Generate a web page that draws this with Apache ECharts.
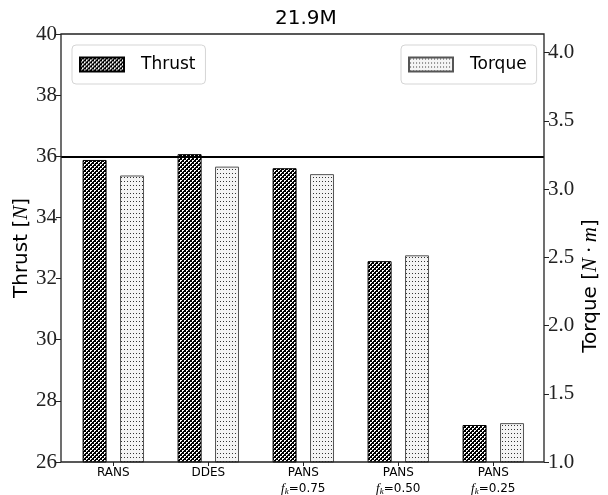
<!DOCTYPE html>
<html>
<head>
<meta charset="utf-8">
<script src="https://cdn.jsdelivr.net/npm/echarts@6/dist/echarts.min.js"></script>
<style>
  html, body { margin: 0; padding: 0; background: #fff; }
  #chart { width: 608px; height: 495px; }
</style>
</head>
<body>
<div id="chart"></div>
<script>
// ---- data ----
const categories = ['RANS', 'DDES', 'PANS_0.75', 'PANS_0.50', 'PANS_0.25'];
const mainLabels = ['RANS', 'DDES', 'PANS', 'PANS', 'PANS'];
const fkLabels = ['', '', '0.75', '0.50', '0.25'];
const thrust = [35.88, 36.07, 35.61, 32.57, 27.21];
const torque = [3.10, 3.165, 3.11, 2.515, 1.285];
const thrustRef = 36;
const thrustTicks = { min: 26, max: 40, step: 2 };
const torqueTicks = { min: 1.0, max: 4.137, step: 0.5 };
const titleText = '21.9M';

// ---- patterns ----
function makeTile(w, h, draw) {
  const c = document.createElement('canvas');
  c.width = w; c.height = h;
  const ctx = c.getContext('2d');
  draw(ctx);
  return c;
}
const thrustTile = makeTile(4, 4, ctx => {
  ctx.fillStyle = '#000'; ctx.fillRect(0, 0, 4, 4);
  ctx.fillStyle = '#fff';
  ctx.fillRect(0, 0, 2, 1);
  ctx.fillRect(0, 1, 1, 1);
  ctx.fillRect(2, 2, 2, 1);
  ctx.fillRect(2, 3, 1, 1);
});
const torqueTile = makeTile(3, 4, ctx => {
  ctx.fillStyle = '#f4f4f4'; ctx.fillRect(0, 0, 3, 4);
  ctx.fillStyle = '#333';
  ctx.fillRect(1, 1, 1, 1);
});
const thrustFill = { image: thrustTile, repeat: 'repeat' };
const torqueFill = { image: torqueTile, repeat: 'repeat' };

const SANS = 'DejaVu Sans';
const SERIF = 'Liberation Serif';

const chart = echarts.init(document.getElementById('chart'), null, { renderer: 'canvas' });

const fmtNum = (v, step, digits) => {
  const k = Math.round(v / step);
  if (Math.abs(k * step - v) > 1e-6) return '';
  return v.toFixed(digits);
};

const legendBase = {
  orient: 'horizontal',
  icon: 'rect',
  itemWidth: 44, itemHeight: 14,
  padding: [11, 10, 11, 7],
  borderColor: '#d5d5d5', borderWidth: 1, borderRadius: 4,
  backgroundColor: '#fff',
  textStyle: { fontFamily: SANS, fontSize: 17, color: '#000', padding: [0, 0, 0, 12] }
};

const option = {
  animation: false,
  backgroundColor: '#fff',
  title: {
    text: titleText,
    left: 270, top: 4,
    textStyle: { fontFamily: SANS, fontSize: 20, fontWeight: 'normal', color: '#000' }
  },
  legend: [
    Object.assign({ data: ['Thrust'], left: 72, top: 45 }, legendBase),
    Object.assign({ data: ['Torque'], left: 401, top: 45 }, legendBase)
  ],
  grid: [
    { left: 65.8, right: 67.2, top: 34, bottom: 33, containLabel: false, outerBoundsMode: 'none' },
    { left: 61, right: 64, top: 34, bottom: 33, containLabel: false, outerBoundsMode: 'none', show: true, borderColor: '#222', borderWidth: 1.3, backgroundColor: 'transparent', z: 10 }
  ],
  xAxis: [
    {
      type: 'category', gridIndex: 0, data: categories,
      axisLine: { show: false },
      axisTick: { show: true, alignWithLabel: true, length: 4, interval: 0, lineStyle: { color: '#222', width: 1 } },
      axisLabel: {
        interval: 0,
        margin: 3,
        lineHeight: 16,
        formatter: (v, i) => fkLabels[i] ? '{a|' + mainLabels[i] + '}\n{i|f}{s|k}{b|=' + fkLabels[i] + '}' : '{a|' + mainLabels[i] + '}',
        rich: {
          a: { fontFamily: SANS, fontSize: 12, color: '#000', lineHeight: 16 },
          b: { fontFamily: SANS, fontSize: 12, color: '#000', lineHeight: 16 },
          i: { fontFamily: SERIF, fontStyle: 'italic', fontSize: 13, color: '#000', lineHeight: 16 },
          s: { fontFamily: SERIF, fontStyle: 'italic', fontSize: 9, color: '#000', lineHeight: 16, padding: [5, 0, 0, 0] }
        }
      },
      splitLine: { show: false }
    },
    { type: 'value', gridIndex: 1, min: 0, max: 1, show: false }
  ],
  yAxis: [
    {
      type: 'value', gridIndex: 0, position: 'left', offset: 4.8,
      min: thrustTicks.min, max: thrustTicks.max, interval: thrustTicks.step,
      axisLine: { show: false },
      axisTick: { show: true, length: 5, lineStyle: { color: '#222', width: 1 } },
      axisLabel: { margin: 4, fontFamily: SERIF, fontSize: 21, color: '#222', formatter: v => fmtNum(v, thrustTicks.step, 0) },
      splitLine: { show: false },
      name: 'Thrust [{m|N}]',
      nameLocation: 'middle', nameRotate: 90, nameGap: 29, nameMoveOverlap: false,
      nameTextStyle: { fontFamily: SANS, fontSize: 20, color: '#000', rich: { m: { fontFamily: SERIF, fontStyle: 'italic', fontSize: 21, color: '#000' } } }
    },
    {
      type: 'value', gridIndex: 0, position: 'right', offset: 3.2,
      min: torqueTicks.min, max: torqueTicks.max, interval: torqueTicks.step,
      axisLine: { show: false },
      axisTick: { show: true, length: 5, lineStyle: { color: '#222', width: 1 } },
      axisLabel: { margin: 4, fontFamily: SERIF, fontSize: 21, color: '#222', showMaxLabel: false, formatter: v => fmtNum(v, torqueTicks.step, 1) },
      splitLine: { show: false },
      name: 'Torque [{m|N · m}]',
      nameLocation: 'middle', nameRotate: 90, nameGap: 36, nameMoveOverlap: false,
      nameTextStyle: { fontFamily: SANS, fontSize: 20, color: '#000', padding: [0, 76, 0, 0], rich: { m: { fontFamily: SERIF, fontStyle: 'italic', fontSize: 21, color: '#000' } } }
    },
    { type: 'value', gridIndex: 1, min: thrustTicks.min, max: thrustTicks.max, show: false }
  ],
  series: [
    {
      name: 'Thrust', type: 'bar', xAxisIndex: 0, yAxisIndex: 0,
      data: thrust,
      barWidth: 24, barGap: '56%',
      itemStyle: { color: thrustFill, borderColor: '#000', borderWidth: 1 }
    },
    {
      name: 'Torque', type: 'bar', xAxisIndex: 0, yAxisIndex: 1,
      data: torque,
      barWidth: 24, barGap: '56%',
      itemStyle: { color: torqueFill, borderColor: '#555', borderWidth: 1 }
    },
    {
      name: 'ref', type: 'line', xAxisIndex: 1, yAxisIndex: 2,
      data: [[0, null]], showSymbol: false, z: 20,
      markLine: {
        silent: true, symbol: ['none', 'none'],
        label: { show: false },
        lineStyle: { color: '#000', width: 2, type: 'solid' },
        data: [{ yAxis: thrustRef }]
      }
    }
  ]
};
chart.setOption(option);
</script>
</body>
</html>
